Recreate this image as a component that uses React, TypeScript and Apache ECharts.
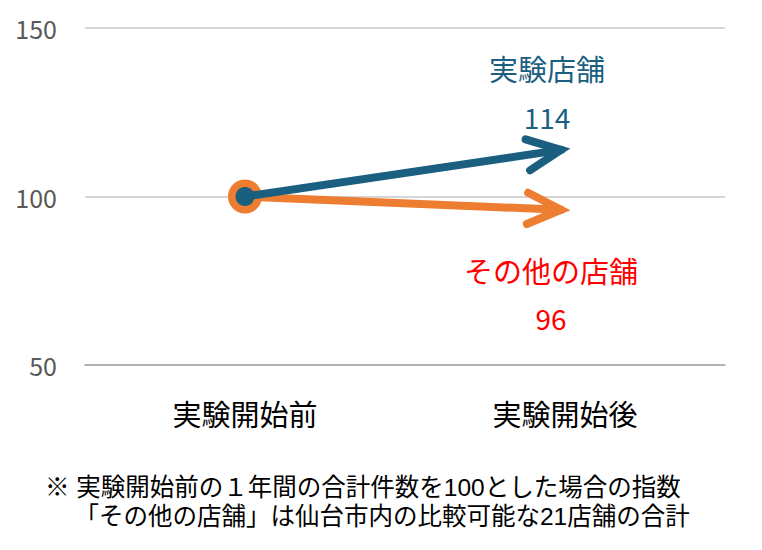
import React, { useEffect, useRef } from "react";
import * as echarts from "echarts";

const categories = ["実験開始前", "実験開始後"];
const seriesNames = ["その他の店舗", "実験店舗"];
const otherStores = [100, 96];
const experimentStores = [100, 114];
const yTicks = [50, 100, 150];
const footnotes = [
  "※ 実験開始前の１年間の合計件数を100とした場合の指数",
  "「その他の店舗」は仙台市内の比較可能な21店舗の合計",
];

const CJK = '"Noto Sans CJK JP", "Noto Sans", sans-serif';
const NOTE_FONT = '"Liberation Sans", "Noto Sans CJK JP", sans-serif';
const BLUE = "#1a5f80";
const ORANGE = "#ed7d31";
const RED = "#ff0000";

function makeRender(color: string, circleR: number, labelColor: string, below: boolean) {
  return (params: any, api: any) => {
    const s = api.coord([api.value(0), api.value(1)]);
    const e = api.coord([api.value(2), api.value(3)]);
    const dx = e[0] - s[0];
    const dy = e[1] - s[1];
    const len = Math.sqrt(dx * dx + dy * dy);
    const ux = dx / len;
    const uy = dy / len;
    const vx = e[0] - ux * 4;
    const vy = e[1] - uy * 4;
    const armLen = 37;
    const ang = (25 * Math.PI) / 180;
    const bx = -ux;
    const by = -uy;
    const a1 = [
      vx + armLen * (bx * Math.cos(ang) - by * Math.sin(ang)),
      vy + armLen * (bx * Math.sin(ang) + by * Math.cos(ang)),
    ];
    const a2 = [
      vx + armLen * (bx * Math.cos(-ang) - by * Math.sin(-ang)),
      vy + armLen * (bx * Math.sin(-ang) + by * Math.cos(-ang)),
    ];
    const lineStyle = {
      stroke: color,
      lineWidth: 8,
      lineCap: "round",
      lineJoin: "miter",
      fill: null,
    };
    const nameDy = below ? 60 : -81;
    const valDy = below ? 108 : -32;
    const dxText = below ? -14 : -18;
    return {
      type: "group",
      children: [
        { type: "polyline", shape: { points: [[s[0], s[1]], [vx, vy]] }, style: lineStyle },
        { type: "polyline", shape: { points: [a1, [vx, vy], a2] }, style: lineStyle },
        { type: "circle", shape: { cx: s[0], cy: s[1], r: circleR }, style: { fill: color } },
        {
          type: "text",
          x: e[0] + dxText,
          y: e[1] + nameDy,
          style: {
            text: params.seriesName,
            fill: labelColor,
            font: `29px ${CJK}`,
            align: "center",
            verticalAlign: "middle",
          },
        },
        {
          type: "text",
          x: e[0] + dxText,
          y: e[1] + valDy,
          style: {
            text: String(api.value(3)),
            fill: labelColor,
            font: `28px ${CJK}`,
            align: "center",
            verticalAlign: "middle",
          },
        },
      ],
    };
  };
}

export default function App() {
  const ref = useRef<HTMLDivElement>(null);
  useEffect(() => {
    if (!ref.current) return;
    const chart = echarts.init(ref.current, null, { renderer: "svg" });
    chart.setOption({
      animation: false,
      backgroundColor: "#ffffff",
      grid: { left: 85, right: 37, top: 28, bottom: 185 },
      xAxis: {
        type: "category",
        data: categories,
        boundaryGap: true,
        axisTick: { show: false },
        axisLine: { show: true, lineStyle: { color: "#a6a6a6", width: 1.5 } },
        axisLabel: {
          color: "#000000",
          fontSize: 29,
          lineHeight: 29,
          fontFamily: CJK,
          margin: 33,
        },
      },
      yAxis: {
        type: "value",
        min: yTicks[0],
        max: yTicks[yTicks.length - 1],
        interval: yTicks[1] - yTicks[0],
        axisLine: { show: false },
        axisTick: { show: false },
        axisLabel: { color: "#595959", fontSize: 25, fontFamily: CJK, margin: 28 },
        splitLine: { lineStyle: { color: "#c8c8c8", width: 1.5 } },
      },
      series: [
        {
          type: "custom",
          name: seriesNames[0],
          renderItem: makeRender(ORANGE, 17, RED, true),
          encode: { x: [0, 2], y: [1, 3] },
          data: [[0, otherStores[0], 1, otherStores[1]]],
          clip: false,
        },
        {
          type: "custom",
          name: seriesNames[1],
          renderItem: makeRender(BLUE, 9.5, BLUE, false),
          encode: { x: [0, 2], y: [1, 3] },
          data: [[0, experimentStores[0], 1, experimentStores[1]]],
          clip: false,
        },
      ],
      graphic: [
        {
          type: "text",
          left: 45,
          top: 473,
          style: {
            text: footnotes[0] + "\n\u3000\u2009" + footnotes[1],
            fill: "#000000",
            font: `24.5px ${NOTE_FONT}`,
            lineHeight: 29,
          },
        },
      ],
    });
    return () => chart.dispose();
  }, []);
  return <div ref={ref} style={{ width: 762, height: 550, position: "absolute", left: 0, top: 0 }} />;
}
